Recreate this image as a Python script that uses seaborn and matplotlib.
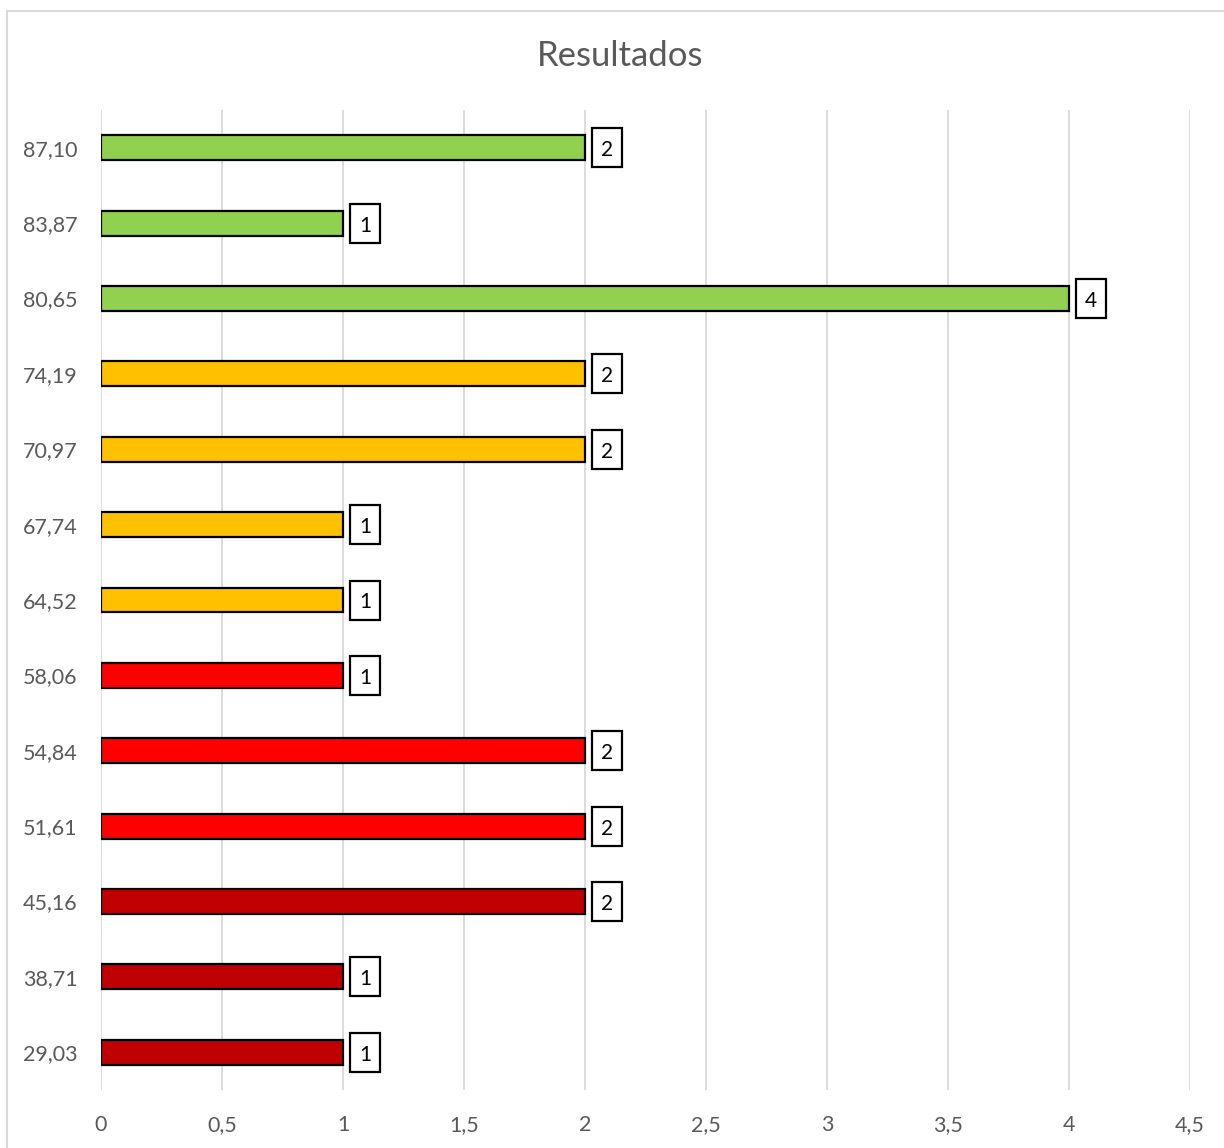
import matplotlib
matplotlib.use("Agg")
import matplotlib.pyplot as plt
import seaborn as sns
import pandas as pd
from matplotlib.patches import Rectangle
from matplotlib.path import Path

categories = ["87,10", "83,87", "80,65", "74,19", "70,97", "67,74", "64,52",
              "58,06", "54,84", "51,61", "45,16", "38,71", "29,03"]
values = [2, 1, 4, 2, 2, 1, 1, 1, 2, 2, 2, 1, 1]
groups = ["verde", "verde", "verde", "amarillo", "amarillo", "amarillo", "amarillo",
          "rojo", "rojo", "rojo", "oscuro", "oscuro", "oscuro"]
group_colors = {"verde": "#92D050", "amarillo": "#FFC000", "rojo": "#FF0000", "oscuro": "#C00000"}
xticks = [0, 0.5, 1, 1.5, 2, 2.5, 3, 3.5, 4, 4.5]
xticklabels = ["0", "0,5", "1", "1,5", "2", "2,5", "3", "3,5", "4", "4,5"]

sns.set_theme(style="white")
plt.rcParams["font.family"] = ["Lato", "DejaVu Sans"]

df = pd.DataFrame({"cat": categories, "val": values, "grp": groups})

W, H = 1224, 1148
fig = plt.figure(figsize=(W / 100, H / 100), dpi=100)
ax = fig.add_axes([101 / W, 1 - 1090 / H, (1190 - 101) / W, (1090 - 110) / H])

sns.barplot(data=df, x="val", y="cat", hue="grp", palette=group_colors,
            saturation=1, dodge=False, width=0.33, edgecolor="black", linewidth=1.6,
            legend=False, ax=ax, zorder=3)

ax.set_xlim(0, 4.5)
ax.set_ylim(len(categories) - 0.5, -0.5)
ax.set_xticks(xticks)
ax.set_xticklabels(xticklabels)
ax.grid(axis="x", color="#D9D9D9", linewidth=1.3, zorder=0)
ax.grid(axis="y", visible=False)
for s in ax.spines.values():
    s.set_visible(False)
ax.tick_params(axis="x", length=0, pad=18, labelsize=15.5, labelcolor="#595959")
ax.tick_params(axis="y", length=0, pad=17, labelsize=15.5, labelcolor="#595959")
ax.set_xlabel("")
ax.set_ylabel("")


def fixed_box(x0, y0, width, height, mutation_size):
    bw, bh = 30.0, 39.0
    cx, cy = x0 + width / 2, y0 + height / 2 + 2.5
    l, r, b, t = cx - bw / 2, cx + bw / 2, cy - bh / 2, cy + bh / 2
    return Path([(l, b), (r, b), (r, t), (l, t), (l, b)], closed=True)


for i, v in enumerate(values):
    ax.annotate(str(v), xy=(v, i), xytext=(15.8, -1.8), textcoords="offset points",
                ha="center", va="center", fontsize=15, color="black",
                bbox=dict(boxstyle=fixed_box, fc="white", ec="black", lw=1.6),
                zorder=5)

fig.text(620 / W, 1 - 56 / H, "Resultados", ha="center", va="center",
         fontsize=25, color="#595959")

fig.patches.append(Rectangle((7 / W, -0.05), 1.1, 1 - 11 / H + 0.05, transform=fig.transFigure,
                             fill=False, ec="#D9D9D9", lw=1.5, zorder=0))

fig.savefig("out.png", dpi=100, facecolor="white")
